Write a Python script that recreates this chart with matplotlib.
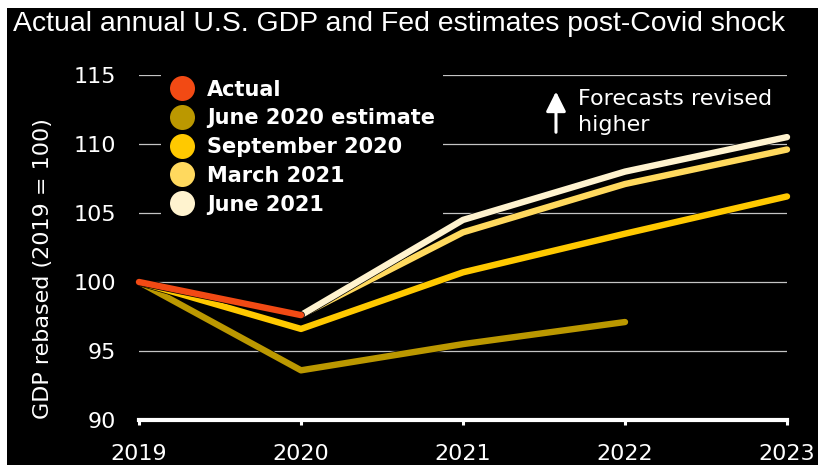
import matplotlib
matplotlib.use("Agg")
import matplotlib.pyplot as plt
import matplotlib.patheffects as pe
from matplotlib.lines import Line2D
from matplotlib.patches import Rectangle
from matplotlib import font_manager

# data
years = [2019, 2020, 2021, 2022, 2023]
actual = [100.0, 97.6]
june_2020 = [100.0, 93.6, 95.5, 97.1]
sept_2020 = [100.0, 96.6, 100.7, 103.5, 106.2]
march_2021 = [97.6, 103.6, 107.1, 109.6]
june_2021 = [97.6, 104.5, 108.0, 110.5]

labels = ["Actual", "June 2020 estimate", "September 2020", "March 2021", "June 2021"]
colors = ["#f24a14", "#bb9800", "#ffc900", "#ffd95e", "#fff3cf"]
yticks = [90, 95, 100, 105, 110, 115]

names = {f.name for f in font_manager.fontManager.ttflist}
title_font = "Liberation Sans" if "Liberation Sans" in names else "DejaVu Sans"

fig = plt.figure(figsize=(8.18, 4.65), dpi=100, facecolor="black")
# white strips at top and left (the picture is a crop)
fig.patches.append(Rectangle((0, 1 - 8 / 465), 1, 8 / 465, transform=fig.transFigure,
                             facecolor="white", edgecolor="none", zorder=0))
fig.patches.append(Rectangle((0, 0), 7 / 818, 1, transform=fig.transFigure,
                             facecolor="white", edgecolor="none", zorder=0))

ax = fig.add_axes([139 / 818, 1 - 420 / 465, 648 / 818, 345 / 465])
ax.set_facecolor("black")

lw = 4.6
stroke = [pe.Stroke(linewidth=lw + 1.0, foreground="black"), pe.Normal()]
series = [
    (years[:4], june_2020, colors[1]),
    (years, sept_2020, colors[2]),
    (years[1:], march_2021, colors[3]),
    (years[1:], june_2021, colors[4]),
    (years[:2], actual, colors[0]),
]
for xs, ys, c in series:
    ax.plot(xs, ys, color=c, lw=lw, solid_capstyle="round", solid_joinstyle="round",
            clip_on=False, path_effects=stroke, zorder=3)

ax.set_xlim(2019, 2023)
ax.set_ylim(90, 115)
ax.set_xticks(years)
ax.set_yticks(yticks)

for y in yticks[1:]:
    ax.axhline(y, color="#c4c4c4", lw=0.9, zorder=1)

for s in ["top", "right", "left"]:
    ax.spines[s].set_visible(False)
ax.spines["bottom"].set_color("white")
ax.spines["bottom"].set_linewidth(3)
ax.spines["bottom"].set_zorder(4)

ax.tick_params(axis="x", colors="white", length=3.5, width=2.2, pad=14, labelsize=16)
ax.tick_params(axis="y", colors="white", length=0, pad=16.5, labelsize=16)

fig.text(43 / 818, 1 - 269 / 465, "GDP rebased (2019 = 100)", rotation=90, color="white",
         ha="center", va="center", fontsize=16)

fig.text(13 / 818, 1 - 24 / 465, "Actual annual U.S. GDP and Fed estimates post-Covid shock",
         color="white", ha="left", va="center", fontsize=20.4, family=title_font)

handles = [Line2D([], [], marker="o", ls="none", markersize=18, markerfacecolor=c,
                  markeredgecolor="none") for c in colors]
leg = ax.legend(handles, labels, loc="upper left", bbox_to_anchor=(0.034, 1.011),
                borderaxespad=0, borderpad=0.4, handlelength=1.2, handletextpad=0.6,
                labelspacing=0.42, frameon=True, facecolor="black", edgecolor="none",
                framealpha=1, fancybox=False,
                prop={"weight": "bold", "size": 15})
for t in leg.get_texts():
    t.set_color("white")
leg.set_zorder(5)

ax.annotate("", xy=(2021.574, 113.8), xytext=(2021.574, 110.85),
            arrowprops=dict(arrowstyle="-|>,head_length=0.6,head_width=0.3",
                            color="white", lw=2.2, mutation_scale=20, shrinkA=0, shrinkB=0))
ax.text(2021.71, 114.0, "Forecasts revised\nhigher", color="white", ha="left", va="top",
        fontsize=16, linespacing=1.38)

fig.savefig("out.png", dpi=100, facecolor=fig.get_facecolor())
